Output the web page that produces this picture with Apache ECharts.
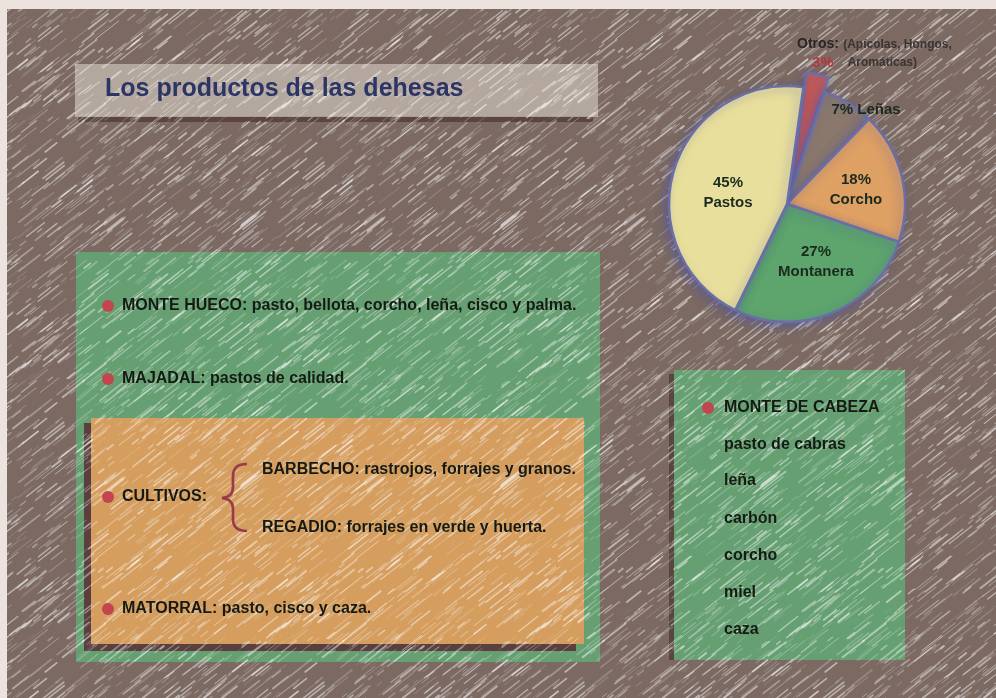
<!DOCTYPE html>
<html><head><meta charset="utf-8">
<script src="https://cdn.jsdelivr.net/npm/echarts@6/dist/echarts.min.js"></script>
<style>html,body{margin:0;padding:0;background:#ece3df}#c{width:996px;height:698px}</style>
</head><body><div id="c"></div>
<script>
// ---- data ----
const title = 'Los productos de las dehesas';
const categories = ['Otros', 'Leñas', 'Corcho', 'Montanera', 'Pastos'];
const values = [3, 7, 18, 27, 45];
const otrosNote = ['(Apícolas, Hongos,', 'Aromáticas)'];
const leftItems = ['MONTE HUECO: pasto, bellota, corcho, leña, cisco y palma.', 'MAJADAL: pastos de calidad.'];
const cultivosLabel = 'CULTIVOS:';
const cultivosItems = ['BARBECHO: rastrojos, forrajes y granos.', 'REGADIO: forrajes en verde y huerta.'];
const matorral = 'MATORRAL: pasto, cisco y caza.';
const monteCabezaTitle = 'MONTE DE CABEZA';
const monteCabezaItems = ['pasto de cabras', 'leña', 'carbón', 'corcho', 'miel', 'caza'];

// ---- styles ----
const sliceColors = ['#c45a55', '#8b786c', '#dea063', '#5da56c', '#e9df9c'];
const FONT = '"Liberation Sans", Arial, sans-serif';
const TXT = '#151a15';
const BUL = '#c2454f';

// chalk streak texture (decoration only)
function h(i){ const s = Math.sin(i * 12.9898 + 78.233) * 43758.5453; return s - Math.floor(s); }
const T = 260;
function makeTex(n, aMin, aMax) {
  const tex = document.createElement('canvas'); tex.width = T; tex.height = T;
  const g = tex.getContext('2d');
  g.lineCap = 'round';
  const ang = 38 * Math.PI / 180;
  for (let i = 0; i < n; i++) {
    const x = h(i) * T, y = h(i + 1000) * T;
    const len = 4 + h(i + 2000) * 26;
    const a = aMin + h(i + 3000) * (aMax - aMin);
    g.strokeStyle = 'rgba(255,255,255,' + a.toFixed(3) + ')';
    g.lineWidth = 0.7 + h(i + 4000) * 1.3;
    for (let ox = -T; ox <= T; ox += T) for (let oy = -T; oy <= T; oy += T) {
      g.beginPath();
      g.moveTo(x + ox, y + oy);
      g.lineTo(x + ox + len * Math.cos(ang), y + oy - len * Math.sin(ang));
      g.stroke();
    }
  }
  return tex;
}
const streak = { image: makeTex(680, 0.10, 0.52), repeat: 'repeat' };

const graphics = [];
// frame & background
graphics.push({ type: 'rect', shape: { x: 7, y: 9, width: 989, height: 689 }, style: { fill: '#7b6962' }, z: 0 });
// title box
graphics.push({ type: 'rect', shape: { x: 78, y: 116, width: 515, height: 6 }, style: { fill: '#5a4540' }, z: 1 });
graphics.push({ type: 'rect', shape: { x: 75, y: 64, width: 523, height: 53 }, style: { fill: 'rgba(208,196,186,0.68)' }, z: 1 });
// big green box
graphics.push({ type: 'rect', shape: { x: 76, y: 252, width: 524, height: 410 }, style: { fill: '#66a072' }, z: 1 });
// orange box with shadow
graphics.push({ type: 'rect', shape: { x: 84, y: 423, width: 492, height: 228 }, style: { fill: '#5b3f3f' }, z: 1 });
graphics.push({ type: 'rect', shape: { x: 91, y: 418, width: 493, height: 226 }, style: { fill: '#d59e5f' }, z: 1 });
// right green box
graphics.push({ type: 'rect', shape: { x: 669, y: 374, width: 6, height: 286 }, style: { fill: '#5a4540' }, z: 1 });
graphics.push({ type: 'rect', shape: { x: 674, y: 370, width: 231, height: 290 }, style: { fill: '#66a072' }, z: 1 });
// streak overlay
graphics.push({ type: 'rect', shape: { x: 7, y: 9, width: 989, height: 689 }, style: { fill: streak }, z: 1, silent: true });

// texts
function txt(x, y, s, opt) {
  graphics.push(Object.assign({ type: 'text', x: x, y: y, z: 10,
    style: { text: s, fill: TXT, font: 'bold 16px ' + FONT, textVerticalAlign: 'middle', textAlign: 'left' } }, opt || {}));
}
function bullet(x, y) {
  graphics.push({ type: 'circle', shape: { cx: x, cy: y, r: 6 }, style: { fill: BUL }, z: 10 });
}
txt(105, 89, title, { style: { text: title, fill: '#2b3566', font: 'bold 25px ' + FONT, textVerticalAlign: 'middle' } });

const leftY = [306, 379];
leftItems.forEach((s, i) => { bullet(108, leftY[i]); txt(122, leftY[i], s); });
bullet(108, 497); txt(122, 497, cultivosLabel);
const cultY = [470, 528];
cultivosItems.forEach((s, i) => txt(262, cultY[i], s));
bullet(108, 609); txt(122, 609, matorral);
// curly brace
const braceStyle = { fill: 'none', stroke: '#9a3a4c', lineWidth: 2.6 };
[
  { x1: 247, y1: 464, x2: 233, y2: 476, cpx1: 233, cpy1: 464 },
  { x1: 233, y1: 487, x2: 222, y2: 498, cpx1: 233, cpy1: 497 },
  { x1: 222, y1: 498, x2: 233, y2: 509, cpx1: 233, cpy1: 499 },
  { x1: 233, y1: 519, x2: 247, y2: 531, cpx1: 233, cpy1: 531 }
].forEach(s => graphics.push({ type: 'bezierCurve', z: 10, shape: s, style: braceStyle }));
graphics.push({ type: 'line', z: 10, shape: { x1: 233, y1: 475, x2: 233, y2: 488 }, style: braceStyle });
graphics.push({ type: 'line', z: 10, shape: { x1: 233, y1: 508, x2: 233, y2: 520 }, style: braceStyle });

bullet(708, 408); txt(724, 408, monteCabezaTitle);
const mcY = [445, 481, 519, 556, 593, 630];
monteCabezaItems.forEach((s, i) => txt(724, mcY[i], s));

// pie geometry
const pieCenter = [787, 204];
const pieRadius = 118;
const startAngle = 82;
const explode = 15;          // the "Otros" slice is pulled out
const total = values.reduce((a, b) => a + b, 0);
const otrosMid = (startAngle - values[0] / total * 180) * Math.PI / 180;
const explodedCenter = [pieCenter[0] + explode * Math.cos(otrosMid), pieCenter[1] - explode * Math.sin(otrosMid)];

// pie label positions (by category index)
const labelPos = [
  [797, 53, 'left'],
  [866, 110, 'center'],
  [856, 190, 'center'],
  [816, 262, 'center'],
  [728, 193, 'center']
];

const border = { borderColor: '#6a6fa6', borderWidth: 2.5, shadowBlur: 10, shadowColor: 'rgba(80,85,170,0.55)', shadowOffsetX: -3, shadowOffsetY: 3 };

const chart = echarts.init(document.getElementById('c'), null, { renderer: 'canvas' });
chart.setOption({
  backgroundColor: '#ece3df',
  animation: false,
  graphic: graphics,
  series: [{
    type: 'pie',
    z: 5,
    center: pieCenter,
    radius: [0, pieRadius],
    startAngle: startAngle,
    clockwise: true,
    emphasis: { disabled: true },
    itemStyle: border,
    labelLine: { show: false },
    label: {
      show: true,
      position: 'inside',
      color: '#1a2a1e',
      fontFamily: FONT,
      fontWeight: 'bold',
      fontSize: 15,
      lineHeight: 20,
      formatter: function (p) {
        if (p.dataIndex === 0) return '{b|' + p.name + ':} {n|' + otrosNote[0] + '}\n{r|' + p.value + '%}{n|' + otrosNote[1] + '}';
        if (p.dataIndex === 1) return p.value + '% ' + p.name;
        return p.value + '%\n' + p.name;
      },
      rich: {
        b: { fontFamily: FONT, fontWeight: 'bold', fontSize: 14, color: '#2a2624', lineHeight: 17 },
        r: { fontFamily: FONT, fontWeight: 'bold', fontSize: 15, color: '#b8343c', lineHeight: 17, padding: [0, 14, 0, 15] },
        n: { fontFamily: FONT, fontSize: 12, color: '#3a3432', lineHeight: 17 }
      }
    },
    labelLayout: function (p) {
      const q = labelPos[p.dataIndex];
      return { x: q[0], y: q[1], align: q[2], verticalAlign: 'middle' };
    },
    data: categories.map((c, i) => ({ name: c, value: values[i],
      itemStyle: i === 0 ? { color: 'rgba(0,0,0,0)', borderWidth: 0, shadowBlur: 0, shadowColor: 'rgba(0,0,0,0)' } : { color: sliceColors[i] } }))
  }, {
    // exploded "Otros" slice
    type: 'pie',
    z: 4,
    silent: true,
    center: explodedCenter,
    radius: [0, pieRadius],
    startAngle: startAngle,
    clockwise: true,
    emphasis: { disabled: true },
    label: { show: false },
    labelLine: { show: false },
    data: categories.map((c, i) => ({ name: c, value: values[i],
      itemStyle: i === 0 ? Object.assign({ color: sliceColors[0] }, border) : { color: 'rgba(0,0,0,0)', borderWidth: 0 } }))
  }]
});
</script></body></html>
